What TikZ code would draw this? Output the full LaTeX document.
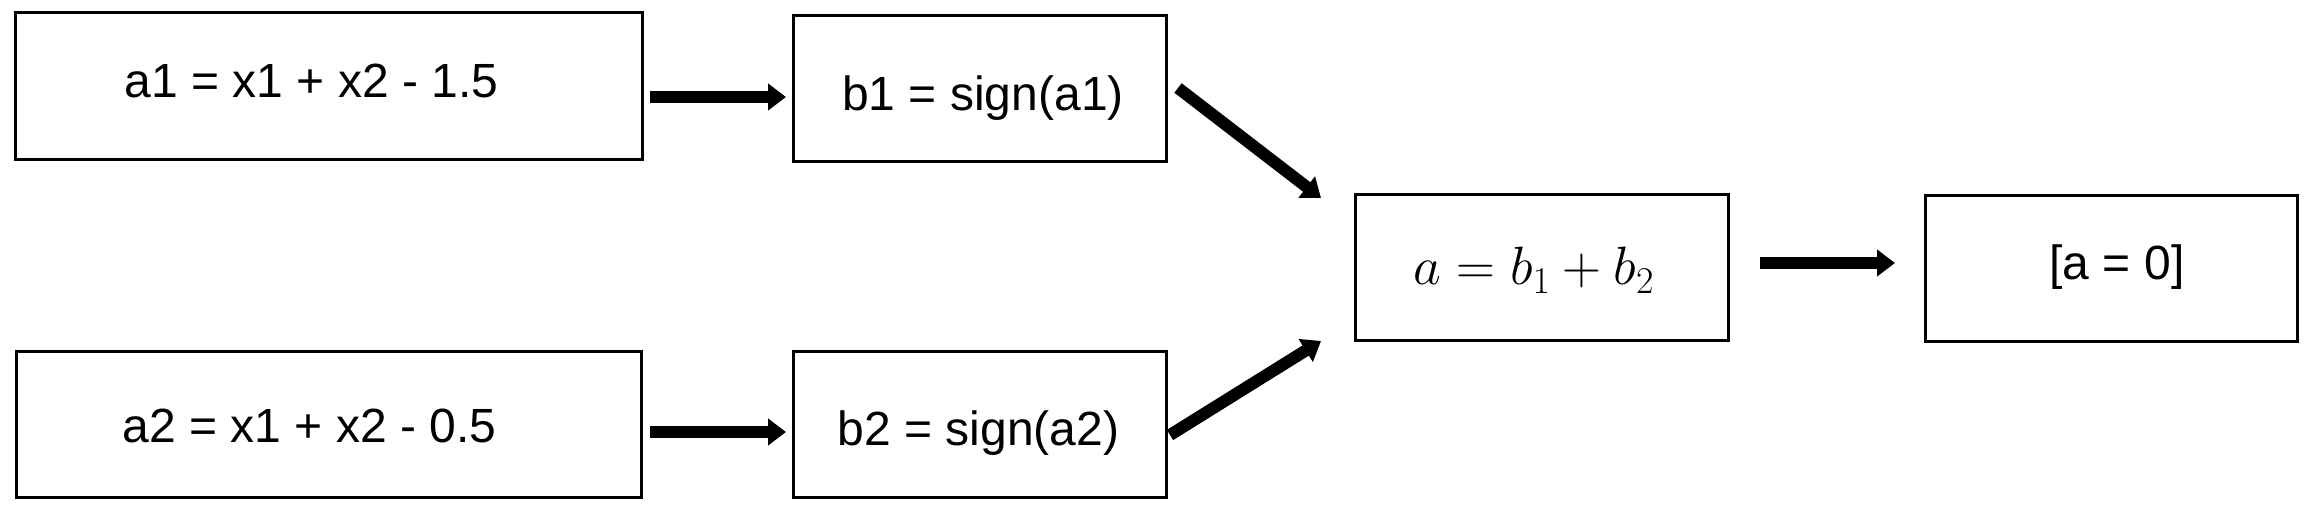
\documentclass[tikz,border=0pt]{standalone}
\usepackage{fix-cm}
\usepackage{fontspec}
\setmainfont{Liberation Sans}
\usetikzlibrary{arrows.meta,calc}

\begin{document}
\begin{tikzpicture}[
  x=0.5pt, y=-0.5pt,
  stagebox/.style={draw=black, line width=1.5pt, inner sep=0pt, outer sep=0pt,
    rectangle},
  txt/.style={anchor=base, inner sep=0pt, font=\fontsize{24}{28}\selectfont},
  mathtxt/.style={anchor=base, inner sep=0pt, font=\fontsize{27}{31}\selectfont},
  flow/.style={line width=6pt, line cap=butt,
    -{Triangle[length=9pt, width=13pt]}}
]
\useasboundingbox (0,0) rectangle (2320,523);

% boxes (pixel-like units, y grows downward)
\node[stagebox, minimum width=313.5pt, minimum height=73.5pt] (a1) at (328.5,86.5) {};
\node[stagebox, minimum width=186.5pt, minimum height=73pt]   (b1) at (979.5,89)   {};
\node[stagebox, minimum width=312.5pt, minimum height=73pt]   (a2) at (328.5,425)  {};
\node[stagebox, minimum width=186.5pt, minimum height=73pt]   (b2) at (979.5,425)  {};
\node[stagebox, minimum width=186.5pt, minimum height=73pt]   (a)  at (1541.5,268) {};
\node[stagebox, minimum width=186pt,   minimum height=73pt]   (z)  at (2111,269)   {};

% texts, placed by their baselines
\node[txt] (a1t) at (311.5,98)  {a1 = x1 + x2 - 1.5};
\node[txt] (b1t) at (983,111)   {b1 = sign(a1)};
\node[txt] (a2t) at (309.5,443) {a2 = x1 + x2 - 0.5};
\node[txt] (b2t) at (978.5,446) {b2 = sign(a2)};
\node[mathtxt] (at) at (1534,285) {$a = b_1 + b_2$};
\node[txt] (zt)  at (2117,280)  {[a = 0]};

% connectors
\draw[flow] ($(a1.east)+(8,10.5)$) -- ($(b1.west)+(-7,8)$);
\draw[flow] ($(a2.east)+(9,7)$)    -- ($(b2.west)+(-7,7)$);
\draw[flow] ($(b1.east)+(12,-1)$)  -- ($(a.north west)+(-34,3)$);
\draw[flow] ($(b2.east)+(4,10)$)   -- ($(a.south west)+(-34,0)$);
\draw[flow] ($(a.east)+(32,-5)$)   -- ($(z.west)+(-30,-6)$);
\end{tikzpicture}
\end{document}
